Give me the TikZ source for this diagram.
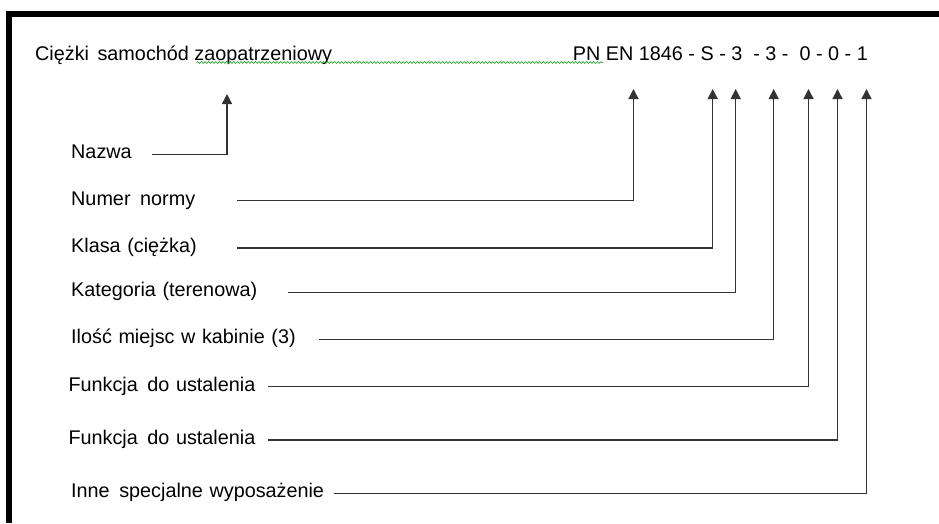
\documentclass[tikz,border=0pt]{standalone}
\usepackage{fontspec}
\setmainfont{Liberation Sans}
\usetikzlibrary{arrows.meta,positioning,decorations.pathmorphing}

\begin{document}
\begin{tikzpicture}[
  x=1pt, y=-1pt,
  font=\fontsize{19.8}{24}\selectfont,
  txt/.style={anchor=base west, inner sep=0pt},
  lab/.style={anchor=west, inner sep=0pt, align=left, text height=14pt, text depth=5pt},
  conn/.style={draw=black!80, line width=1.4pt, -{Triangle[width=10pt,length=10pt]}},
  squig/.style={draw=green!55!black!80, line width=0.7pt, decorate,
                decoration={snake, amplitude=0.9pt, segment length=3.6pt}}
]
\useasboundingbox (0,0) rectangle (939,523);
% frame
\fill[black] (6,11) rectangle (939,17);
\fill[black] (6,11) rectangle (12,523);

% top line
\node[txt] (title) at (35,60) {Ciężki\kern3pt{} samochód zaopatrzeniowy};
\node[txt] (code) at (572.7,60) {PN EN 1846 - S - 3~ - 3 -~ 0 - 0 - 1};
\draw[squig] (196.7,62.5) -- (603,62.5);

% arrow tips
\coordinate (tName) at (227,94);
\coordinate (tNorm) at (633.5,89);
\coordinate (tKlasa) at (712.7,89);
\coordinate (tKat) at (735.7,89);
\coordinate (tMiejsca) at (773.7,89);
\coordinate (tFunA) at (808.5,89);
\coordinate (tFunB) at (837.5,89);
\coordinate (tWyp) at (866.5,89);

% labels
\node[lab, text width=81pt] (nazwa) at (71,154.3) {Nazwa};
\node[lab, text width=165.7pt] (norma) at (71,200.7) {Numer\kern3pt{} normy};
\node[lab, text width=165.7pt] (klasa) at (71,248) {Klasa (ciężka)};
\node[lab, text width=216.3pt] (kat) at (71,292.3) {Kategoria (terenowa)};
\node[lab, text width=248pt] (miejsca) at (71,339.3) {Ilość miejsc w kabinie (3)};
\node[lab, text width=199.4pt] (funA) at (68.3,386.7) {Funkcja\kern3pt{} do ustalenia};
\node[lab, text width=199.4pt] (funB) at (68.3,440) {Funkcja\kern3pt{} do ustalenia};
\node[lab, text width=262.3pt] (wyp) at (71,493.3) {Inne\kern3pt{} specjalne wyposażenie};

% connectors
\draw[conn] (nazwa.east) -| (tName);
\draw[conn] (norma.east) -| (tNorm);
\draw[conn] (klasa.east) -| (tKlasa);
\draw[conn] (kat.east) -| (tKat);
\draw[conn] (miejsca.east) -| (tMiejsca);
\draw[conn] (funA.east) -| (tFunA);
\draw[conn] (funB.east) -| (tFunB);
\draw[conn] (wyp.east) -| (tWyp);
\end{tikzpicture}
\end{document}
